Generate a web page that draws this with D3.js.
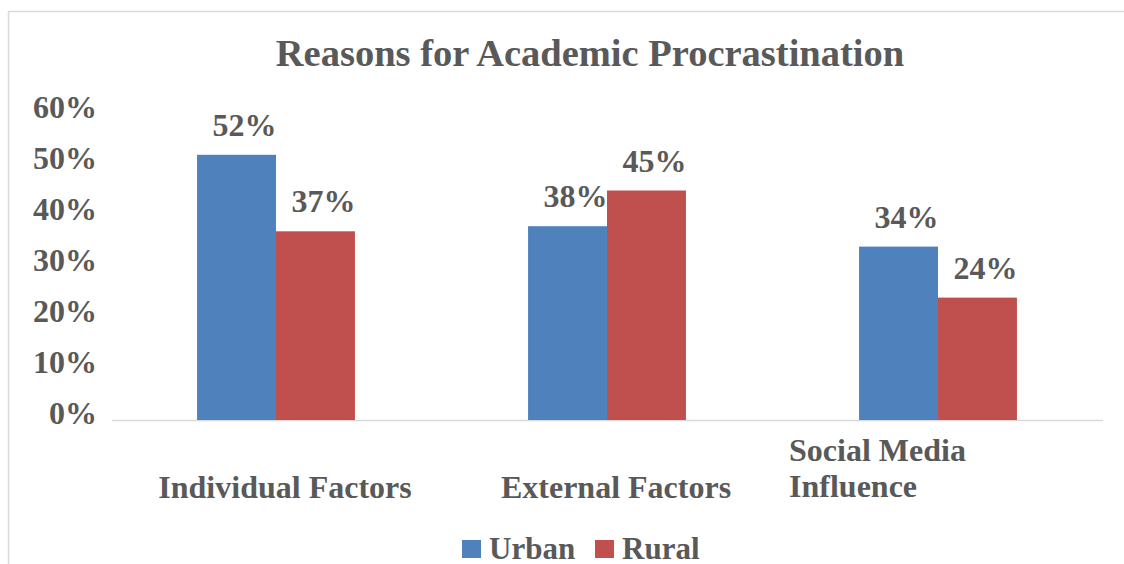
<!DOCTYPE html>
<html>
  <head>
    <title>Reasons for Academic Procrastination</title>
    <script type="text/javascript" src="https://d3js.org/d3.v7.min.js"></script>
    <style>
      body { margin:0; background:#fff; }
      text { font-family:"Liberation Serif","Times New Roman",serif; font-weight:bold; fill:#595959; }
    </style>
  </head>
  <body>
    <svg width="1124" height="564"></svg>
    <script>
      var categories = ["Individual Factors", "External Factors", "Social Media Influence"];
      var series = ["Urban", "Rural"];
      var urban = [0.52, 0.38, 0.34];
      var rural = [0.37, 0.45, 0.24];
      var ticks = [0, 0.1, 0.2, 0.3, 0.4, 0.5, 0.6];
      var colors = ["#4F81BD", "#C0504D"];

      var svg = d3.select("svg");

      // chart border
      svg.append("rect")
        .attr("x", 8.5).attr("y", 11.5)
        .attr("width", 1130).attr("height", 600)
        .attr("fill", "none").attr("stroke", "#d9d9d9").attr("stroke-width", 1.5);

      svg.append("text")
        .attr("x", 590).attr("y", 66)
        .attr("text-anchor", "middle")
        .style("font-size", "38.5px")
        .text("Reasons for Academic Procrastination");

      var x = d3.scaleBand()
        .domain(categories)
        .range([110.5, 1103.5])
        .paddingInner(0.523)
        .paddingOuter(0.2615);

      var xs = d3.scaleBand()
        .domain(series)
        .range([0, x.bandwidth()]);

      var y = d3.scaleLinear()
        .domain([0, 0.6])
        .range([420, 114]);

      // y tick labels (no axis line)
      svg.selectAll(".ytick")
        .data(ticks)
        .enter()
        .append("text")
        .attr("class", "ytick")
        .attr("x", 97)
        .attr("y", function(d){ return y(d) + 4; })
        .attr("text-anchor", "end")
        .style("font-size", "32px")
        .text(d3.format(".0%"));

      // baseline
      svg.append("line")
        .attr("x1", 112).attr("x2", 1103)
        .attr("y1", 420.5).attr("y2", 420.5)
        .attr("stroke", "#d9d9d9").attr("stroke-width", 1.5);

      var rows = categories.map(function(c, i){
        return {cat:c, vals:[urban[i], rural[i]]};
      });

      var gs = svg.selectAll(".grp")
        .data(rows)
        .enter()
        .append("g")
        .attr("transform", function(d){ return "translate(" + x(d.cat) + ",0)"; });

      var cells = gs.selectAll(".cell")
        .data(function(d){ return d.vals.map(function(v, j){ return {s:series[j], v:v, j:j}; }); })
        .enter();

      cells.append("rect")
        .attr("x", function(d){ return xs(d.s); })
        .attr("y", function(d){ return y(d.v); })
        .attr("width", xs.bandwidth())
        .attr("height", function(d){ return y(0) - y(d.v); })
        .attr("fill", function(d){ return colors[d.j]; });

      cells.append("text")
        .attr("x", function(d){ return xs(d.s) + xs.bandwidth() / 2 + 8; })
        .attr("y", function(d){ return y(d.v) - 19; })
        .attr("text-anchor", "middle")
        .style("font-size", "32px")
        .text(function(d){ return d3.format(".0%")(d.v); });

      // category labels
      svg.selectAll(".xlab")
        .data(categories)
        .enter()
        .append("text")
        .attr("class", "xlab")
        .style("font-size", "32px")
        .each(function(d){
          var t = d3.select(this);
          if (d === "Social Media Influence") {
            t.attr("x", x(d) - 70).attr("text-anchor", "start");
            t.append("tspan").attr("x", x(d) - 70).attr("y", 461).text("Social Media");
            t.append("tspan").attr("x", x(d) - 70).attr("y", 497).text("Influence");
          } else {
            t.attr("x", x(d) + x.bandwidth() / 2 + 9).attr("y", 498)
              .attr("text-anchor", "middle").text(d);
          }
        });

      // legend
      var legX = [462, 595];
      var lg = svg.selectAll(".leg")
        .data(series)
        .enter()
        .append("g")
        .attr("transform", function(d, i){ return "translate(" + legX[i] + ",540)"; });
      lg.append("rect")
        .attr("width", 19).attr("height", 18)
        .attr("fill", function(d, i){ return colors[i]; });
      lg.append("text")
        .attr("x", 27).attr("y", 19)
        .style("font-size", "31px")
        .text(function(d){ return d; });
    </script>
  </body>
</html>
